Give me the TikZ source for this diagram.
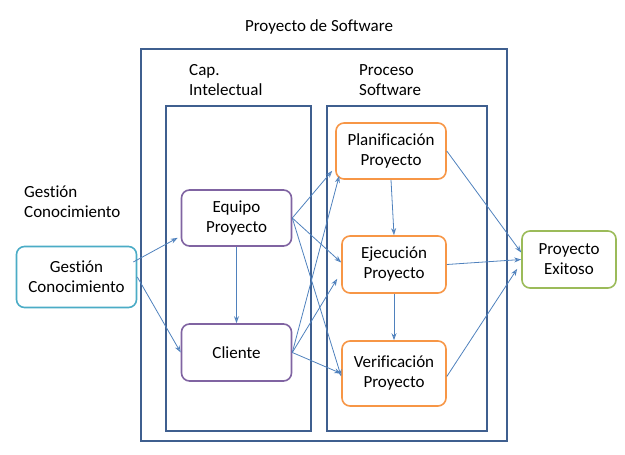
\documentclass[tikz,border=0pt]{standalone}
\usepackage{fontspec}
\setmainfont[Ligatures=NoCommon]{Carlito}
\usetikzlibrary{arrows.meta,calc}
\definecolor{framec}{HTML}{3F5F8F}
\definecolor{arrc}{HTML}{4F81BD}
\definecolor{tealc}{HTML}{4BACC6}
\definecolor{purc}{HTML}{8064A2}
\definecolor{orgc}{HTML}{F79646}
\definecolor{grnc}{HTML}{9BBB59}
\tikzset{
  frame/.style={draw=framec,line width=2pt,inner sep=0pt},
  box/.style={draw,line width=1.6pt,rounded corners=8pt,fill=white,align=center,inner sep=0pt,font=\fontsize{17}{20}\selectfont},
  lbl/.style={align=left,inner sep=0pt,font=\fontsize{17}{20}\selectfont},
  conn/.style={draw=arrc,line width=0.8pt,-{Stealth[length=7pt,width=5pt,open]}},
}
\begin{document}
\begin{tikzpicture}[x=1pt,y=-1pt]
\useasboundingbox (0,0) rectangle (625,455);
% frames
\node[frame,minimum width=366,minimum height=392] (outer) at (324,245) {};
\node[frame,minimum width=145,minimum height=325] (cap) at (238.5,268.5) {};
\node[frame,minimum width=160,minimum height=325] (proc) at (407,268.5) {};
% labels
\node[lbl] (title) at (319,27) {Proyecto de Software};
\node[lbl,anchor=north west] (caplbl) at (189,64) {Cap.\\Intelectual};
\node[lbl,anchor=north west] (proclbl) at (359,64) {Proceso\\Software};
\node[lbl,anchor=north west] (gclbl) at (24,186) {Gestión\\Conocimiento};
% nodes
\node[box,draw=tealc,minimum width=120,minimum height=61] (gc) at (76.5,277) {Gestión\\Conocimiento};
\node[box,draw=purc,minimum width=110,minimum height=56] (eq) at (236.5,218) {Equipo\\Proyecto};
\node[box,draw=purc,minimum width=110,minimum height=57] (cl) at (236.5,352.5) {Cliente};
\node[box,draw=orgc,minimum width=110,minimum height=56] (pl) at (391,151) {Planificación\\Proyecto};
\node[box,draw=orgc,minimum width=104,minimum height=57] (ej) at (394,264.5) {Ejecución\\Proyecto};
\node[box,draw=orgc,minimum width=104,minimum height=65] (ve) at (394,373.5) {Verificación\\Proyecto};
\node[box,draw=grnc,minimum width=94,minimum height=57] (ex) at (569,259.5) {Proyecto\\Exitoso};
% connectors
\draw[conn] ($(gc.east)+(-4,-15)$) -- ($(eq.south west)+(-3,-9)$);
\draw[conn] (gc.east) -- (cl.west);
\draw[conn] (eq.south) -- (cl.north);
\draw[conn] (eq.east) -- ($(pl.south west)+(-3,-9)$);
\draw[conn] (eq.east) -- ($(ej.west)+(0,-2)$);
\draw[conn] (eq.east) -- ($(ve.west)+(0,3)$);
\draw[conn] (cl.east) -- ($(pl.south west)+(4,-4)$);
\draw[conn] (cl.east) -- ($(ej.south west)+(-4,-15)$);
\draw[conn] (cl.east) -- (ve.west);
\draw[conn] (pl.south) -- (ej.north);
\draw[conn] (ej.south) -- (ve.north);
\draw[conn] (pl.east) -- ($(ex.west)+(0,-7)$);
\draw[conn] (ej.east) -- (ex.west);
\draw[conn] ($(ve.east)+(0,3)$) -- ($(ex.south west)+(-4,-20)$);
\end{tikzpicture}
\end{document}
